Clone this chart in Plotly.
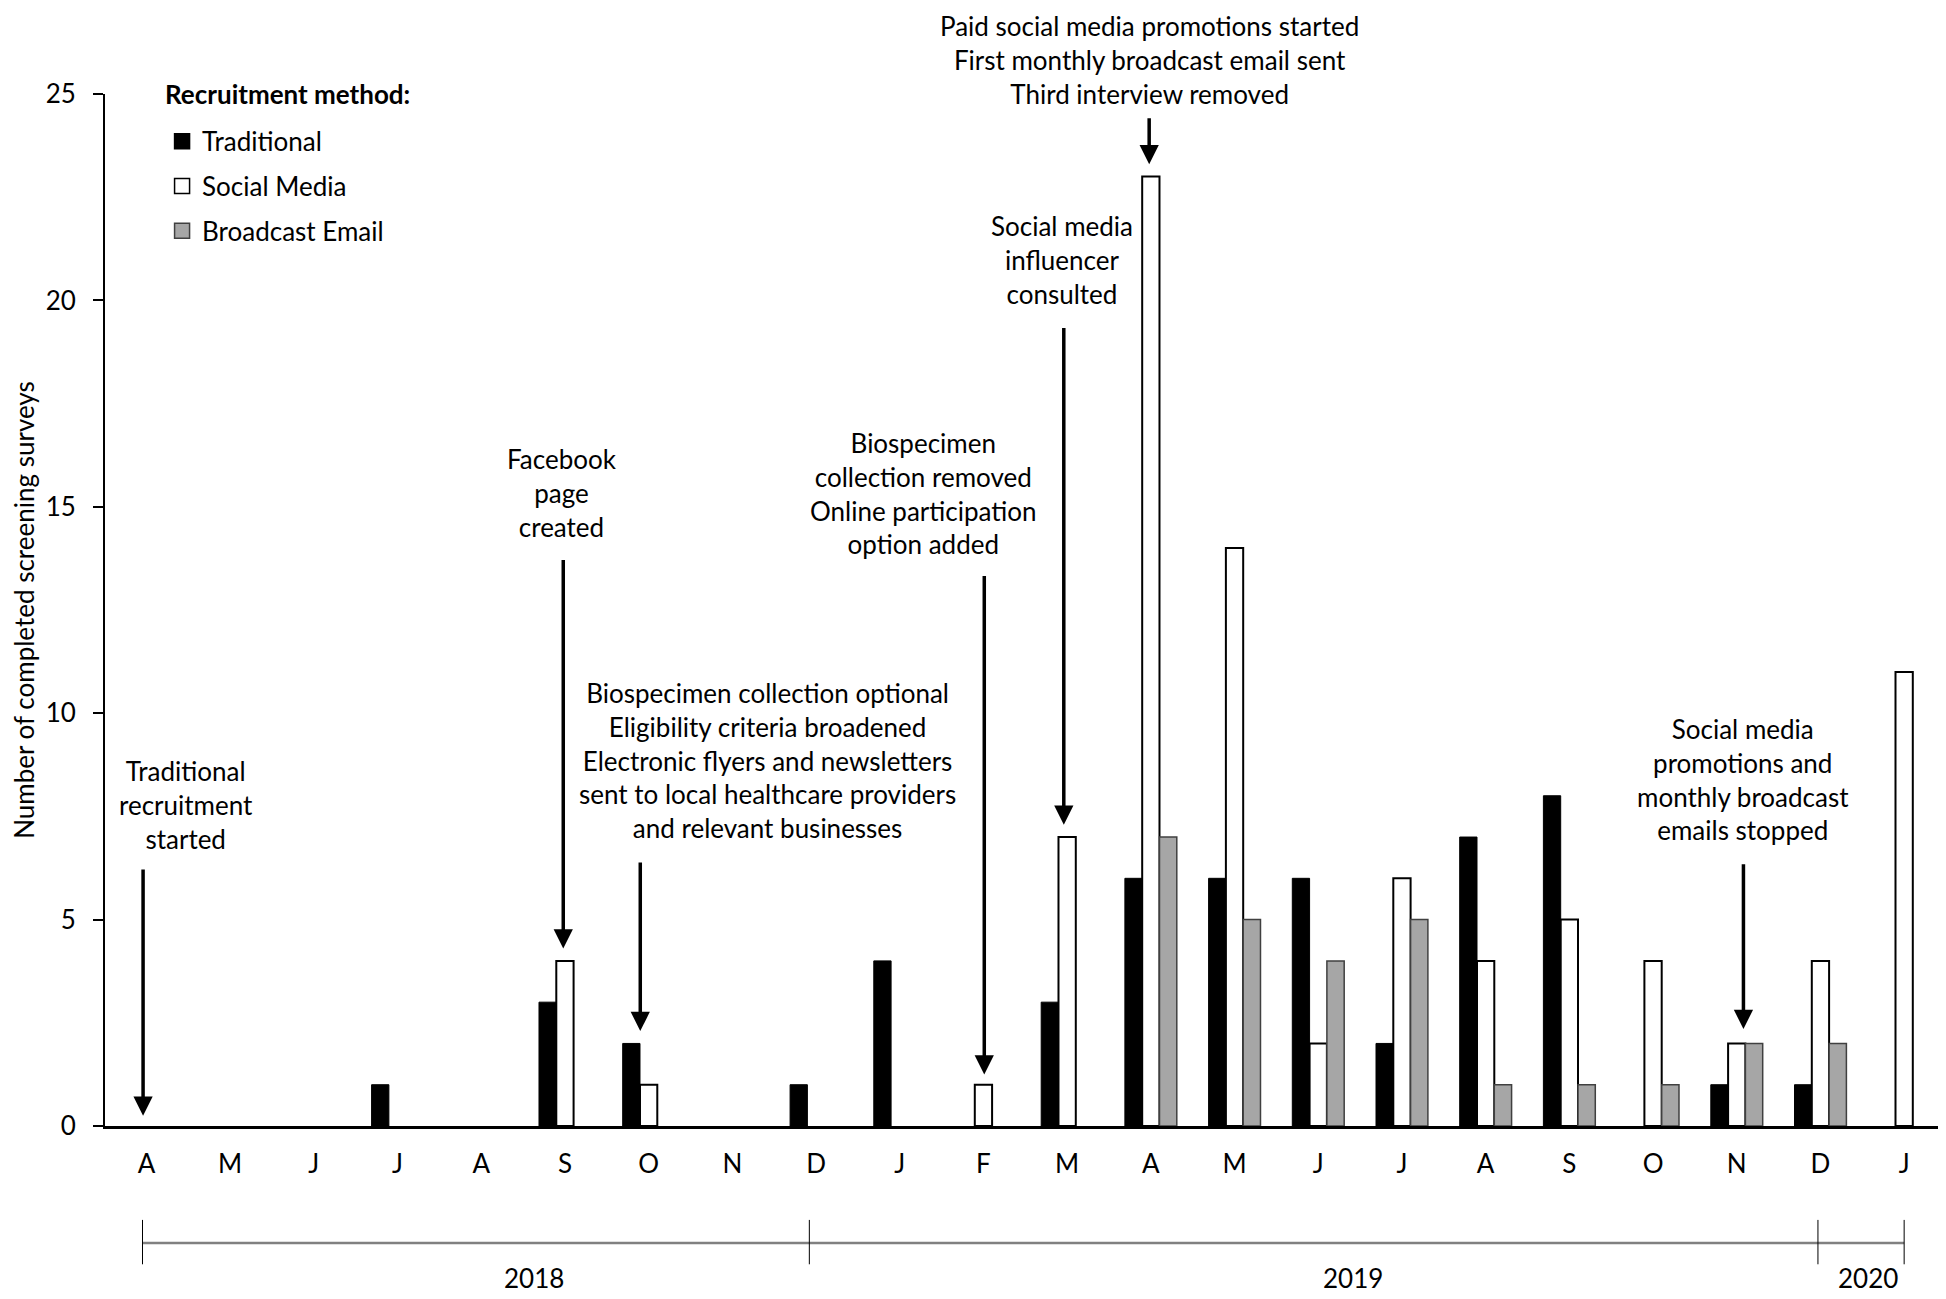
import plotly.graph_objects as go

months = ["A", "M", "J", "J", "A", "S", "O", "N", "D", "J", "F", "M",
          "A", "M", "J", "J", "A", "S", "O", "N", "D", "J"]
traditional = [0, 0, 0, 1, 0, 3, 2, 0, 1, 4, 0, 3, 6, 6, 6, 2, 7, 8, 0, 1, 1, 0]
social_media = [0, 0, 0, 0, 0, 4, 1, 0, 0, 0, 1, 7, 23, 14, 2, 6, 4, 5, 4, 2, 4, 11]
broadcast_email = [0, 0, 0, 0, 0, 0, 0, 0, 0, 0, 0, 0, 7, 5, 4, 5, 1, 1, 1, 2, 2, 0]
years = ["2018", "2019", "2020"]

x = list(range(len(months)))
FONT = "Lato"
FS = 26
YMAX = 25


def lw(vals, w):
    return [w if v > 0 else 0 for v in vals]


series = [
    ("Traditional", traditional, "black", "black", 1),
    ("Social Media", social_media, "white", "black", 2),
    ("Broadcast Email", broadcast_email, "#a6a6a6", "#404040", 1.5),
]

fig = go.Figure()
for name, vals, fill, edge, w in series:
    fig.add_trace(go.Bar(x=x, y=vals, name=name, showlegend=False,
                         marker=dict(color=fill, line=dict(color=edge, width=lw(vals, w)))))
for i, (name, vals, fill, edge, w) in enumerate(series):
    fig.add_trace(go.Scatter(x=[None], y=[None], mode="markers", name=name, legendgroup=str(i),
                             marker=dict(symbol="square", size=15, color=fill,
                                         line=dict(color=edge, width=1.5))))

# event annotations: (text, text_x, text_y, arrow_x, arrow_tail_y, arrow_head_y)
events = [
    ("Traditional<br>recruitment<br>started", 0.47, 7.78, -0.04, 6.25, 0.25),
    ("Facebook<br>page<br>created", 4.97, 15.34, 4.98, 13.75, 4.3),
    ("Biospecimen collection optional<br>Eligibility criteria broadened<br>Electronic flyers and newsletters<br>sent to local healthcare providers<br>and relevant businesses", 7.42, 8.85, 5.9, 6.42, 2.3),
    ("Biospecimen<br>collection removed<br>Online participation<br>option added", 9.28, 15.33, 10.01, 13.36, 1.25),
    ("Social media<br>influencer<br>consulted", 10.94, 20.97, 10.96, 19.37, 7.3),
    ("Paid social media promotions started<br>First monthly broadcast email sent<br>Third interview removed", 11.98, 25.82, 11.98, 24.45, 23.3),
    ("Social media<br>promotions and<br>monthly broadcast<br>emails stopped", 19.07, 8.39, 19.08, 6.38, 2.35),
]

annotations = []
for text, tx, ty, axx, tail, head in events:
    annotations.append(dict(x=tx, y=ty / YMAX, xref="x", yref="paper", xanchor="center",
                            yanchor="middle", text=text, showarrow=False,
                            font=dict(family=FONT, size=FS, color="black"), align="center"))
    annotations.append(dict(x=axx, y=head, ax=axx, ay=tail, xref="x", yref="y",
                            axref="x", ayref="y", text="", showarrow=True,
                            arrowhead=2, arrowsize=1.1, arrowwidth=3.5, arrowcolor="black",
                            standoff=0, startstandoff=0))

year_pos = [4.63, 14.42, 20.57]
for yr, xp in zip(years, year_pos):
    annotations.append(dict(x=xp, y=-0.147, xref="x", yref="paper", xanchor="center",
                            yanchor="middle", text=yr, showarrow=False,
                            font=dict(family=FONT, size=FS, color="black")))

annotations.append(dict(x=0.0315, y=1.0, xref="paper", yref="paper", xanchor="left", yanchor="middle",
                        text="<b>Recruitment method:</b>", showarrow=False,
                        font=dict(family=FONT, size=FS, color="black")))

shapes = [dict(type="line", xref="x", yref="paper", x0=-0.047, x1=21.0, y0=-0.1134, y1=-0.1134,
               line=dict(color="#808080", width=2.5))]
for bx in [-0.047, 7.92, 19.97, 21.0]:
    shapes.append(dict(type="line", xref="x", yref="paper", x0=bx, x1=bx, y0=-0.091, y1=-0.134,
                       line=dict(color="black", width=1)))

fig.update_layout(
    width=1938, height=1291,
    margin=dict(l=97, r=0, t=86, b=173),
    paper_bgcolor="white", plot_bgcolor="white",
    barmode="group", bargap=0.38, bargroupgap=0,
    font=dict(family=FONT, size=FS, color="black"),
    legend=dict(x=0.031, y=0.977, xanchor="left", yanchor="top",
                font=dict(family=FONT, size=FS), tracegroupgap=8,
                itemsizing="trace", bgcolor="rgba(0,0,0,0)"),
    annotations=annotations,
    shapes=shapes,
    xaxis=dict(range=[-0.495, 21.5], tickmode="array", tickvals=x, ticktext=months,
               showgrid=False, zeroline=False, showline=True, linecolor="black", linewidth=2.5,
               ticks="", ticklabelstandoff=13, tickfont=dict(family=FONT, size=FS)),
    yaxis=dict(range=[0, YMAX], tickvals=[0, 5, 10, 15, 20, 25], showgrid=False, zeroline=False,
               showline=True, linecolor="black", linewidth=2, ticks="outside", ticklen=10,
               tickwidth=2, tickcolor="black", ticklabelstandoff=12,
               tickfont=dict(family=FONT, size=FS),
               title=dict(text="Number of completed screening surveys", standoff=14,
                          font=dict(family=FONT, size=FS))),
)

fig.write_html("out.html")
